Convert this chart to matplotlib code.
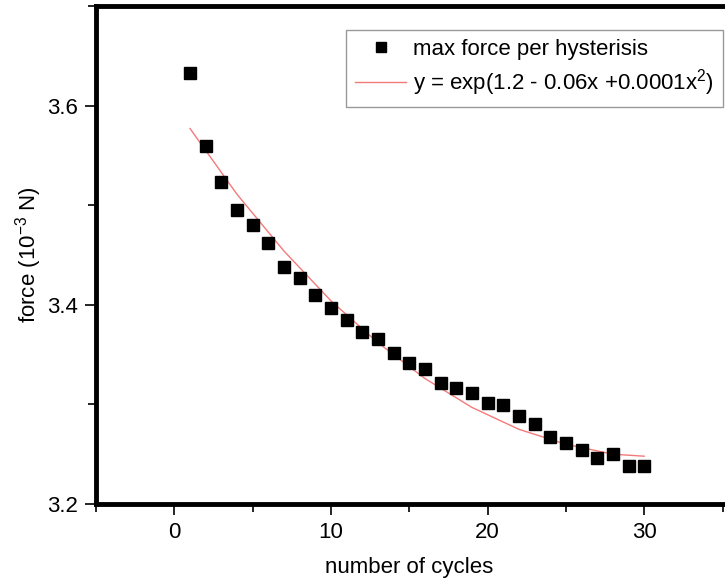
import numpy as np
import matplotlib
matplotlib.use("Agg")
import matplotlib.pyplot as plt
from matplotlib.ticker import MultipleLocator

plt.rcParams["font.family"] = ["Liberation Sans", "DejaVu Sans"]
plt.rcParams["mathtext.default"] = "regular"

# max force per hysteresis cycle
cycles = np.arange(1, 31)
force = [3.633, 3.559, 3.523, 3.495, 3.480, 3.462, 3.438, 3.427, 3.410, 3.397,
         3.385, 3.373, 3.366, 3.352, 3.342, 3.336, 3.321, 3.316, 3.311, 3.301,
         3.299, 3.288, 3.280, 3.267, 3.261, 3.254, 3.246, 3.250, 3.238, 3.238]

# fitted curve
fit_x = [1, 4, 7, 10, 13, 16, 19, 22, 25, 28, 30]
fit_y = [3.577, 3.511, 3.454, 3.404, 3.362, 3.326, 3.297, 3.275, 3.260, 3.250, 3.248]

fig = plt.figure(figsize=(7.25, 5.83), dpi=100)
ax = fig.add_axes([96 / 725, 79 / 583, 626.5 / 725, 498 / 583])

ax.plot(fit_x, fit_y, color="#f47a7a", lw=1.0,
        label="y = exp(1.2 - 0.06x +0.0001x$^2$)", zorder=2)
ax.plot(cycles, force, ls="none", marker="s", ms=8, color="black",
        label="max force per hysterisis", zorder=3)

ax.set_xlim(-5, 35)
ax.set_ylim(3.2, 3.7)
ax.xaxis.set_major_locator(MultipleLocator(10))
ax.xaxis.set_minor_locator(MultipleLocator(5))
ax.yaxis.set_major_locator(MultipleLocator(0.2))
ax.yaxis.set_minor_locator(MultipleLocator(0.1))

for side in ["left", "bottom", "top"]:
    ax.spines[side].set_linewidth(3.5)
ax.spines["right"].set_visible(False)

ax.tick_params(which="major", direction="out", length=8, width=1.2,
               labelsize=16, pad=5, top=False, right=False)
ax.tick_params(which="minor", direction="out", length=5.5, width=1.2,
               top=False, right=False)

ax.set_xlabel("number of cycles", fontsize=16, labelpad=10)
ax.set_ylabel("force (10$^{-3}$ N)", fontsize=16, labelpad=2)

handles, labels = ax.get_legend_handles_labels()
leg = ax.legend(handles[::-1], labels[::-1], loc="upper right",
                bbox_to_anchor=(1.0, 0.952), borderaxespad=0, fontsize=16,
                fancybox=False, edgecolor="#999999", framealpha=1,
                handlelength=2.3, labelspacing=0.35, borderpad=0.4,
                handletextpad=0.3, markerscale=0.85)
leg.get_frame().set_linewidth(1.0)

fig.savefig("out.png", dpi=100)
